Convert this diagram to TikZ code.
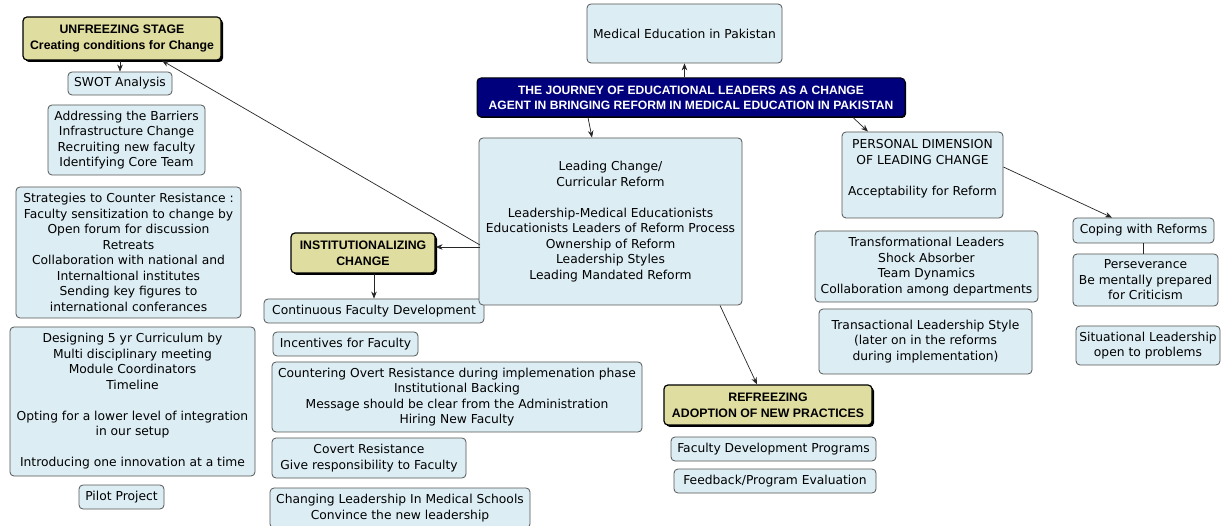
\documentclass[tikz,border=0pt]{standalone}
\usepackage{fontspec}
\setmainfont{DejaVu Sans}
\newfontfamily\hfont{Liberation Sans}
\usetikzlibrary{arrows.meta,shadows,calc}
\definecolor{boxblue}{RGB}{220,237,244}
\definecolor{boxedge}{RGB}{85,85,85}
\definecolor{khaki}{RGB}{224,221,160}
\definecolor{navy}{RGB}{0,0,125}
\tikzset{
  box/.style={draw=boxedge, fill=boxblue, line width=0.8pt, rounded corners=4pt,
    inner sep=0pt, align=center, font=\fontsize{12.3}{15.5}\selectfont},
  stage/.style={draw=black, fill=khaki, line width=1.2pt, rounded corners=4pt,
    inner sep=0pt, align=center, font=\hfont\bfseries\fontsize{12.3}{16}\selectfont,
    drop shadow={shadow xshift=2pt, shadow yshift=-2pt, fill=black, opacity=1}},
  title/.style={draw=black, fill=navy, text=white, line width=1pt, rounded corners=4pt,
    inner sep=0pt, align=center, font=\hfont\bfseries\fontsize{12.1}{15}\selectfont,
    drop shadow={shadow xshift=1pt, shadow yshift=-1pt, fill=black, opacity=1}},
  arr/.style={draw=black!85, line width=0.7pt, -{Stealth[length=7pt,width=5.5pt]}},
  link/.style={draw=black!85, line width=0.7pt}
}
\newcommand\bx[7]{\node[#6, minimum width={(#4-#2)*1pt}, minimum height={(#5-#3)*1pt}]
  (#1) at ({(#2+#4)/2},{(#3+#5)/2}) {#7};}
\begin{document}
\begin{tikzpicture}[x=1pt,y=-1pt]
\useasboundingbox[fill=white] (0,0) rectangle (1221,526);
% left column
\bx{unf}{23}{17}{221}{60}{stage}{UNFREEZING STAGE\\Creating conditions for Change}
\bx{swot}{68}{72}{172}{95}{box}{SWOT Analysis}
\bx{addr}{48}{105}{205}{175}{box}{Addressing the Barriers\\Infrastructure Change\\Recruiting new faculty\\Identifying Core Team}
\bx{strat}{16}{187}{241}{318}{box}{Strategies to Counter Resistance :\\Faculty sensitization to change by\\Open forum for discussion\\Retreats\\Collaboration with national and\\Internaltional institutes\\Sending key figures to\\international conferances}
\bx{design}{10}{327}{255}{476}{box}{Designing 5 yr Curriculum by\\Multi disciplinary meeting\\Module Coordinators\\Timeline\\[15.5pt]Opting for a lower level of integration\\in our setup\\[15.5pt]Introducing one innovation at a time}
\bx{pilot}{79}{485}{164}{509}{box}{Pilot Project}
% institutionalizing column
\bx{inst}{291}{233}{435}{273}{stage}{INSTITUTIONALIZING\\CHANGE}
\bx{cont}{264}{299}{484}{323}{box}{Continuous Faculty Development}
\bx{incent}{273}{332}{418}{356}{box}{Incentives for Faculty}
\bx{counter}{272}{362}{642}{432}{box}{Countering Overt Resistance during implemenation phase\\Institutional Backing\\Message should be clear from the Administration\\Hiring New Faculty}
\bx{covert}{272}{438}{466}{478}{box}{Covert Resistance\\Give responsibility to Faculty}
\bx{changing}{270}{488}{530}{528}{box}{Changing Leadership In Medical Schools\\Convince the new leadership}
% centre
\bx{med}{587}{4}{782}{63}{box}{Medical Education in Pakistan}
\bx{journey}{477}{78}{905}{117}{title}{THE JOURNEY OF EDUCATIONAL LEADERS AS A CHANGE\\AGENT IN BRINGING REFORM IN MEDICAL EDUCATION IN PAKISTAN}
\bx{lead}{479}{138}{742}{305}{box}{Leading Change/\\Curricular Reform\\[15.5pt]Leadership-Medical Educationists\\Educationists Leaders of Reform Process\\Ownership of Reform\\Leadership Styles\\Leading Mandated Reform}
\bx{refr}{664}{385}{872}{425}{stage}{REFREEZING\\ADOPTION OF NEW PRACTICES}
\bx{fdp}{671}{437}{876}{461}{box}{Faculty Development Programs}
\bx{feed}{674}{469}{876}{493}{box}{Feedback/Program Evaluation}
% right
\bx{pers}{842}{132}{1003}{218}{box}{PERSONAL DIMENSION\\OF LEADING CHANGE\\[15.5pt]Acceptability for Reform\\\mbox{}}
\bx{transf}{815}{231}{1038}{302}{box}{Transformational Leaders\\Shock Absorber\\Team Dynamics\\Collaboration among departments}
\bx{transa}{819}{309}{1032}{374}{box}{Transactional Leadership Style\\(later on in the reforms\\during implementation)}
\bx{coping}{1073}{218}{1214}{243}{box}{Coping with Reforms}
\bx{persev}{1073}{254}{1218}{306}{box}{Perseverance\\Be mentally prepared\\for Criticism}
\bx{situ}{1076}{326}{1220}{365}{box}{Situational Leadership\\open to problems}
% connectors
\coordinate (lc1) at (480,245);
\coordinate (lc2) at (480,247);
\draw[arr] (unf.south -| swot.north) -- (swot.north);
\draw[arr] (lc1) -- (unf.south -| 162,0);
\draw[arr] (lc2) -- (inst.east |- lc2);
\draw[arr] (inst.south -| cont.north) -- (cont.north);
\draw[arr] (lead.south -| 720,0) -- (refr.north -| 757,0);
\draw[arr] (journey.north -| med.south) -- (med.south);
\draw[arr] (journey.south -| 588,0) -- (lead.north -| 592,0);
\draw[arr] (journey.south -| 853,0) -- (pers.north -| 868,0);
\draw[arr] (pers.east |- 0,167) -- (coping.north -| 1112,0);
\draw[link] (coping.south) -- (coping.south |- persev.north);
\end{tikzpicture}
\end{document}
